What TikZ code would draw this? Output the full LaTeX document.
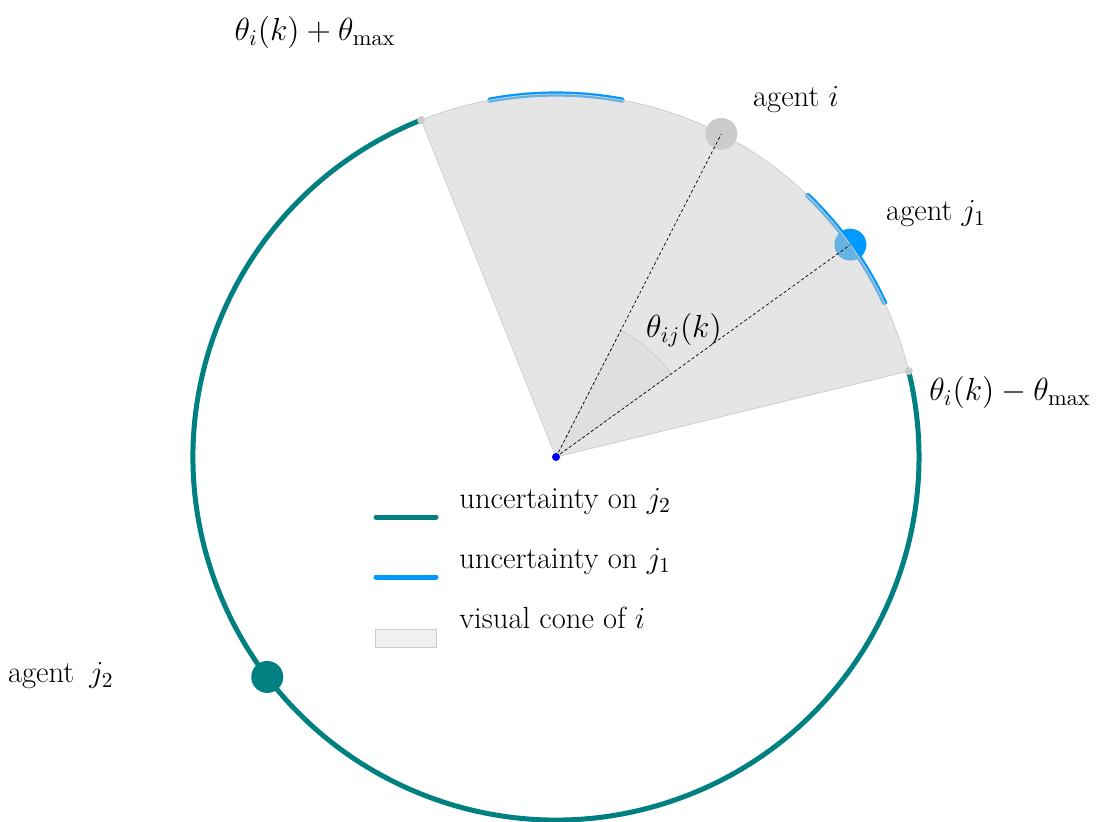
\RequirePackage{fix-cm}
\documentclass[tikz,border=0pt]{standalone}
\usetikzlibrary{calc}
\definecolor{teal2}{HTML}{008080}
\definecolor{blue2}{HTML}{0099FF}
\definecolor{cone}{HTML}{CCCCCC}
\begin{document}
\begin{tikzpicture}[x=0.5pt,y=0.5pt,
  lbl/.style={font=\fontsize{15.3}{18}\selectfont, inner sep=0pt},
  mlbl/.style={font=\fontsize{16}{19}\selectfont, inner sep=0pt},
  teal arc/.style={draw=teal2, line width=2.5pt},
  blue arc/.style={draw=blue2, line width=2.6pt, line cap=round},
  dash line/.style={draw=black, dashed, line width=0.35pt, dash pattern=on 1.5pt off 1.2pt}]
\useasboundingbox (0,0) rectangle (1099,821);
\coordinate (C) at (556,364);
\def\R{363}
% uncertainty on j2
\draw[teal arc] ($(C)+(111.8:\R)$) arc[start angle=111.8, end angle=373.7, radius=\R];
\coordinate (j2) at ($(C)+(217.3:\R)$);
\fill[teal2] (j2) circle[radius=16];
% uncertainty on j1
\draw[blue arc] ($(C)+(46.1:\R)$) arc[start angle=46.1, end angle=25.2, radius=\R];
\draw[blue arc] ($(C)+(79.5:\R)$) arc[start angle=79.5, end angle=100.5, radius=\R];
\coordinate (aj1) at ($(C)+(35.8:\R)$);
\fill[blue2] (aj1) circle[radius=16];
% cone
\filldraw[fill=cone, fill opacity=0.5, draw=cone, line width=0.4pt] (C) -- ($(C)+(13.7:\R)$) arc[start angle=13.7, end angle=111.8, radius=\R] -- cycle;
\fill[cone] ($(C)+(13.7:\R)$) circle[radius=4];
\fill[cone] ($(C)+(111.8:\R)$) circle[radius=4];
% angle wedge
\filldraw[fill=cone, fill opacity=0.25, draw=cone, line width=0.4pt] (C) -- ($(C)+(35.8:142)$) arc[start angle=35.8, end angle=62.9, radius=142] -- cycle;
% agent i
\coordinate (ai) at ($(C)+(62.9:\R)$);
\fill[cone] (ai) circle[radius=16];
\draw[dash line] (C) -- (ai);
\draw[dash line] (C) -- (aj1);
\fill[blue] (C) circle[radius=4];
% labels
\node[mlbl] (tplus) at (315,788) {$\theta_i(k)+\theta_{\max}$};
\node[mlbl] (tminus) at (1010,428) {$\theta_i(k)-\theta_{\max}$};
\node[lbl] (lai) at (796,721) {agent $i$};
\node[lbl] (laj1) at (936,607) {agent $j_1$};
\node[lbl, anchor=east] (laj2) at (114,145) {agent\hspace{3pt} $j_2$};
\node[mlbl] (tij) at (684,491) {$\theta_{ij}(k)$};
% legend
\draw[draw=teal2, line width=2.5pt, line cap=round] (376,304) -- (436,304);
\draw[draw=blue2, line width=2.5pt, line cap=round] (376,244) -- (436,244);
\filldraw[fill=cone!30, draw=cone, line width=0.4pt] (375,174) rectangle (436,192);
\node[lbl, anchor=base west] (l1) at (459,313) {uncertainty on $j_2$};
\node[lbl, anchor=base west] (l2) at (459,253) {uncertainty on $j_1$};
\node[lbl, anchor=base west] (l3) at (459,193) {visual cone of $i$};
\end{tikzpicture}
\end{document}
